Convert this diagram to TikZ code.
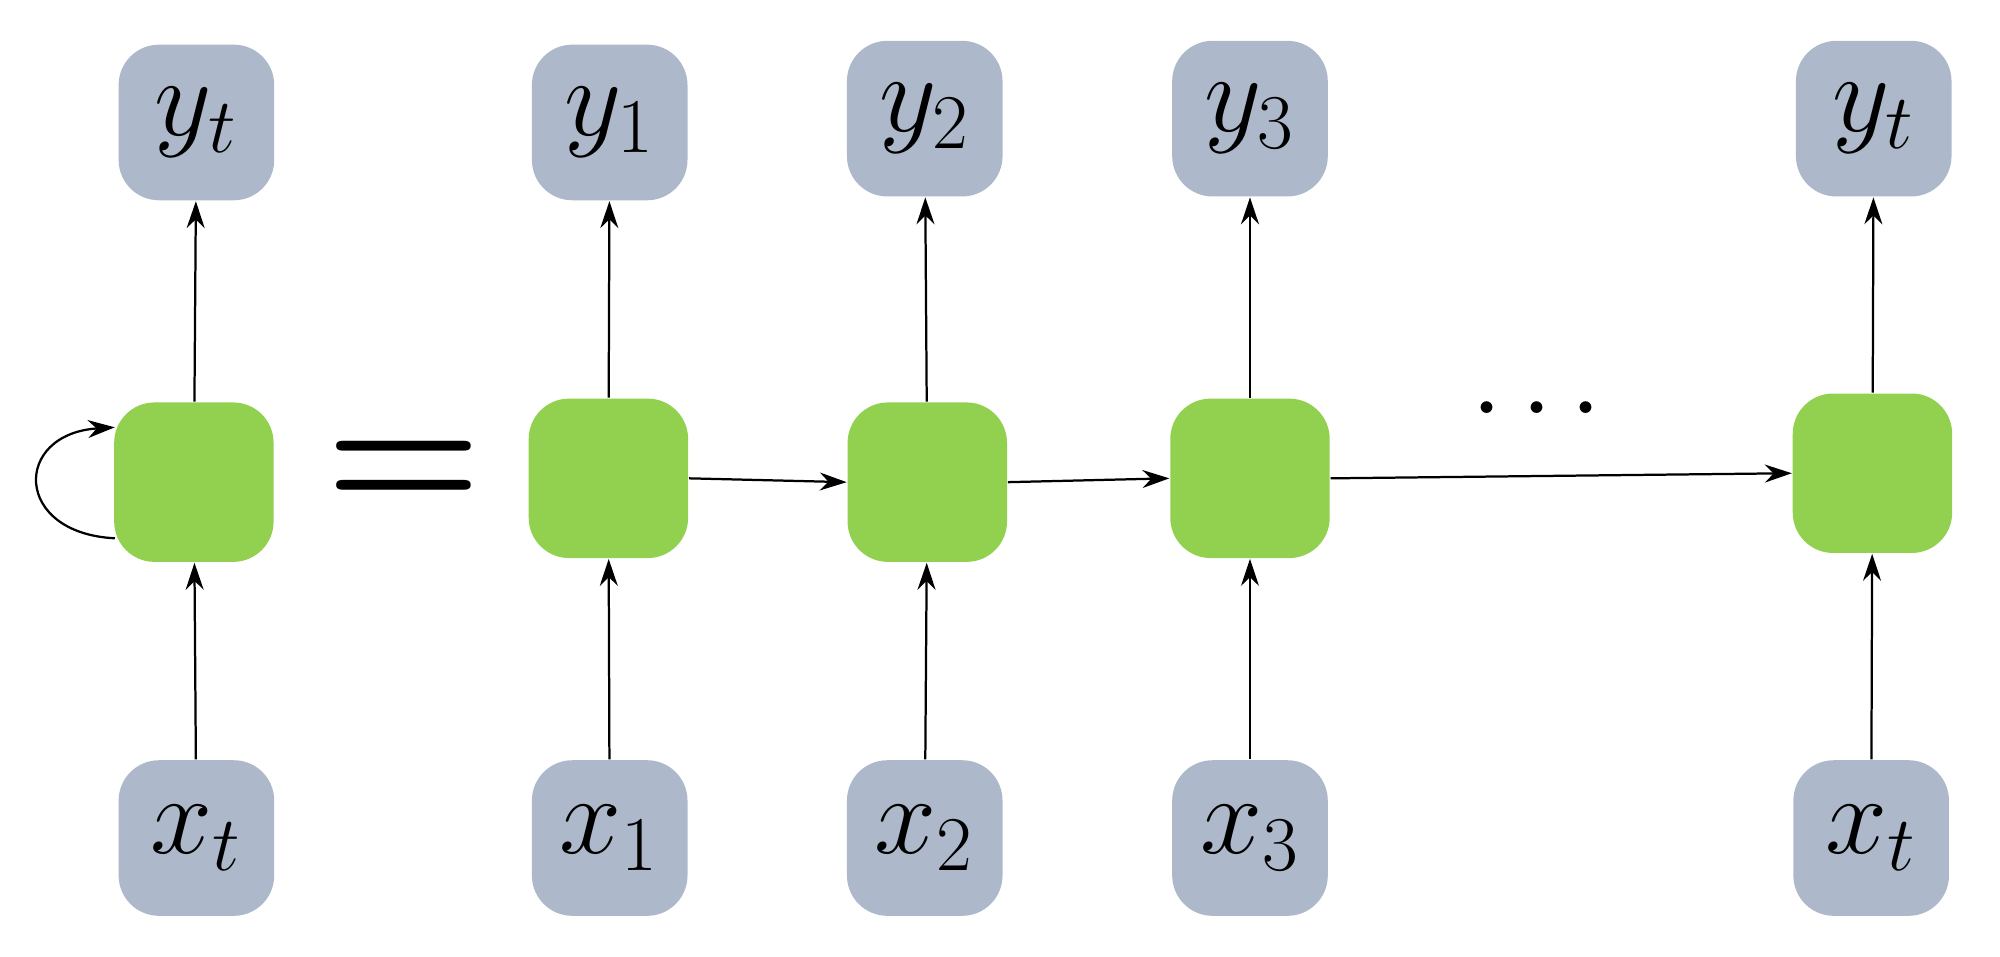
\documentclass[tikz,border=0pt]{standalone}
\usetikzlibrary{arrows.meta}
\definecolor{io}{HTML}{ADB9CA}
\definecolor{cell}{HTML}{92D050}
\begin{document}
\begin{tikzpicture}[x=0.01cm,y=-0.01cm,
  iobox/.style={fill=io,rounded corners=9pt,minimum width=122*0.01cm,minimum height=122*0.01cm,inner sep=0pt,font=\fontsize{26}{30}\selectfont},
  cellbox/.style={fill=cell,rounded corners=9pt,minimum width=125*0.01cm,minimum height=125*0.01cm,inner sep=0pt},
  arr/.style={-{Stealth[length=6pt,width=4pt]},line width=0.5pt}]
\useasboundingbox (0,0) rectangle (1568,750);
% left folded
\node[iobox] (yL) at (154,96) {$y_t$};
\node[cellbox] (hL) at (152,378) {};
\node[iobox] (xL) at (154,657) {$x_t$};
\draw[arr] (xL) -- (hL);
\draw[arr] (hL) -- (yL);
\coordinate (lA) at (90,422);
\coordinate (lB) at (90,335);
\draw[arr] (lA) .. controls (10,418) and (10,340) .. (lB);
\node (eq) at (317,373) {\fontsize{40}{40}\selectfont\bfseries =};
% unrolled
\node[iobox] (y1) at (478,96) {$y_1$};
\node[cellbox] (h1) at (477,375) {};
\node[iobox] (x1) at (478,657) {$x_1$};
\node[iobox] (y2) at (725,93) {$y_2$};
\node[cellbox] (h2) at (727,378) {};
\node[iobox] (x2) at (725,657) {$x_2$};
\node[iobox] (y3) at (980,93) {$y_3$};
\node[cellbox] (h3) at (980,375) {};
\node[iobox] (x3) at (980,657) {$x_3$};
\node[iobox] (y4) at (1469,93) {$y_t$};
\node[cellbox] (h4) at (1468,371) {};
\node[iobox] (x4) at (1467,657) {$x_t$};
\node (dots) at (1205,322) {\fontsize{26}{30}\selectfont$\cdots$};
\foreach \i in {1,2,3,4}{
  \draw[arr] (x\i) -- (h\i);
  \draw[arr] (h\i) -- (y\i);
}
\draw[arr] (h1.east) -- (h2.west);
\draw[arr] (h2.east) -- (h3.west);
\draw[arr] (h3.east) -- (h4.west);
\end{tikzpicture}
\end{document}
